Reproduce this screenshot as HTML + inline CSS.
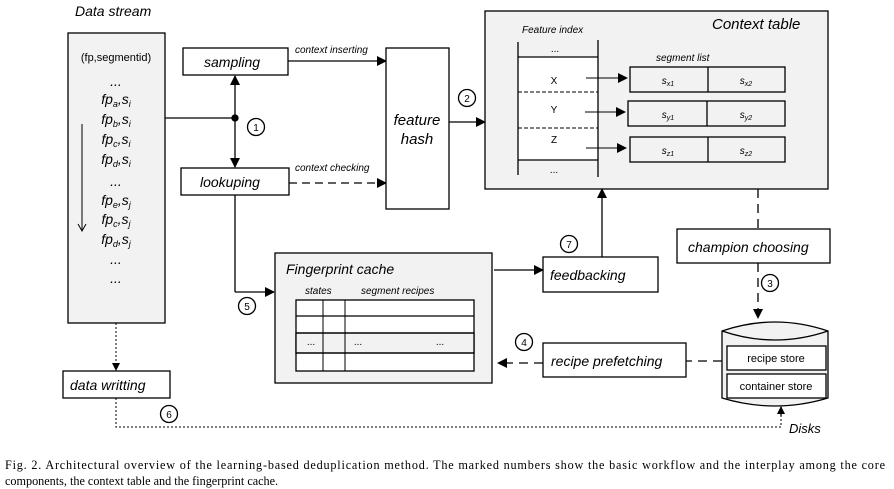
<!DOCTYPE html>
<html><head><meta charset="utf-8"><style>
html,body{margin:0;padding:0;background:#fff;width:894px;height:489px;overflow:hidden}
svg{display:block}
text{font-family:"Liberation Sans",sans-serif;fill:#000}
</style></head><body>
<svg width="894" height="489" viewBox="0 0 894 489" xmlns="http://www.w3.org/2000/svg">
<defs>
<marker id="a" markerWidth="10" markerHeight="10" refX="9" refY="5" orient="auto" markerUnits="userSpaceOnUse"><path d="M0,0 L10,5 L0,10 z" fill="#000"/></marker>
<marker id="s" markerWidth="8" markerHeight="8" refX="7" refY="4" orient="auto" markerUnits="userSpaceOnUse"><path d="M0,0 L8,4 L0,8 z" fill="#000"/></marker>
</defs>
<g stroke="#000" stroke-width="1.3" fill="none">
<rect x="68" y="33" width="97" height="290" fill="#f2f2f2"/>
<line x1="82" y1="124" x2="82" y2="230" stroke-width="1"/>
<path d="M78,224 L82,231 L86,224" stroke-width="1"/>
<rect x="183" y="48" width="105" height="27" fill="#fff"/>
<rect x="181" y="168" width="108" height="27" fill="#fff"/>
<line x1="165" y1="118" x2="235" y2="118"/>
<line x1="235" y1="118" x2="235" y2="76" marker-end="url(#a)"/>
<line x1="235" y1="118" x2="235" y2="167" marker-end="url(#a)"/>
<circle cx="235" cy="118" r="3" fill="#000"/>
<circle cx="256" cy="127" r="8.5"/>
<line x1="288" y1="61" x2="386" y2="61" marker-end="url(#a)"/>
<line x1="289" y1="183" x2="386" y2="183" stroke-dasharray="8,5" marker-end="url(#a)"/>
<rect x="386" y="48" width="63" height="161" fill="#fff"/>
<line x1="449" y1="122" x2="485" y2="122" marker-end="url(#a)"/>
<circle cx="467" cy="98" r="8.5"/>
<rect x="485" y="11" width="343" height="178" fill="#f2f2f2"/>
<rect x="518" y="57" width="80" height="103" fill="#fff" stroke="none"/>
<line x1="518" y1="42" x2="518" y2="175"/>
<line x1="598" y1="40" x2="598" y2="177"/>
<line x1="518" y1="57" x2="598" y2="57"/>
<line x1="518" y1="160" x2="598" y2="160"/>
<line x1="518" y1="92" x2="598" y2="92" stroke-dasharray="4,2" stroke-width="1"/>
<line x1="518" y1="128" x2="598" y2="128" stroke-dasharray="4,2" stroke-width="1"/>
<line x1="586" y1="78" x2="627" y2="78" stroke-width="1" marker-end="url(#a)"/>
<line x1="585" y1="112" x2="625" y2="112" stroke-width="1" marker-end="url(#a)"/>
<line x1="586" y1="148" x2="626" y2="148" stroke-width="1" marker-end="url(#a)"/>
<rect x="630" y="67" width="155" height="25" fill="#f2f2f2"/><line x1="708" y1="67" x2="708" y2="92"/>
<rect x="628" y="101" width="157" height="25" fill="#f2f2f2"/><line x1="707" y1="101" x2="707" y2="126"/>
<rect x="630" y="137" width="155" height="25" fill="#f2f2f2"/><line x1="708" y1="137" x2="708" y2="162"/>
<line x1="602" y1="257" x2="602" y2="189" marker-end="url(#a)"/>
<circle cx="569" cy="244" r="8.5"/>
<rect x="543" y="257" width="115" height="35" fill="#fff"/>
<line x1="494" y1="270" x2="543" y2="270" marker-end="url(#a)"/>
<line x1="758" y1="189" x2="758" y2="229" stroke-dasharray="9,6"/>
<rect x="677" y="229" width="153" height="34" fill="#fff"/>
<line x1="758" y1="263" x2="758" y2="318" stroke-dasharray="9,6" marker-end="url(#a)"/>
<circle cx="770" cy="283" r="8.5"/>
<path d="M722,331 Q775,313 828,331 L828,398 Q775,414 722,398 Z" fill="#f2f2f2"/>
<path d="M722,331 Q775,349 828,331"/>
<rect x="727" y="346" width="99" height="24" fill="#fff"/>
<rect x="727" y="374" width="99" height="24" fill="#fff"/>
<line x1="722" y1="361" x2="686" y2="361" stroke-dasharray="9,6"/>
<rect x="543" y="343" width="143" height="34" fill="#fff"/>
<line x1="543" y1="363" x2="498" y2="363" stroke-dasharray="9,6" marker-end="url(#a)"/>
<circle cx="524" cy="342" r="8.5"/>
<line x1="235" y1="195" x2="235" y2="292"/>
<line x1="235" y1="292" x2="274" y2="292" marker-end="url(#a)"/>
<circle cx="247" cy="306" r="8.5"/>
<rect x="275" y="253" width="217" height="130" fill="#f2f2f2"/>
<rect x="296" y="300" width="178" height="71" fill="#fff"/>
<rect x="296" y="333" width="178" height="20" fill="#f2f2f2"/>
<line x1="296" y1="316" x2="474" y2="316"/>
<line x1="296" y1="333" x2="474" y2="333"/>
<line x1="296" y1="353" x2="474" y2="353"/>
<line x1="323" y1="300" x2="323" y2="371" stroke-width="1"/>
<line x1="345" y1="300" x2="345" y2="371" stroke-width="1"/>
<line x1="116" y1="323" x2="116" y2="370" stroke-dasharray="2,2" stroke-width="1" marker-end="url(#s)"/>
<rect x="63" y="371" width="107" height="27" fill="#fff"/>
<path d="M116,398 L116,427 L781,427 L781,409" stroke-dasharray="2,2" stroke-width="1"/>
<line x1="781" y1="416" x2="781" y2="407" marker-end="url(#s)"/>
<circle cx="169" cy="414" r="8.5"/>
</g>
<g font-size="14" font-style="italic">
<text x="75" y="16">Data stream</text>
<text x="204" y="67">sampling</text>
<text x="200" y="187">lookuping</text>
<text x="417" y="125" text-anchor="middle" font-size="15">feature</text>
<text x="417" y="144" text-anchor="middle" font-size="15">hash</text>
<text x="712" y="29" font-size="15">Context table</text>
<text x="550" y="280">feedbacking</text>
<text x="688" y="252">champion choosing</text>
<text x="551" y="366">recipe prefetching</text>
<text x="286" y="274">Fingerprint cache</text>
<text x="70" y="390">data writting</text>
<text x="789" y="433" font-size="13">Disks</text>
</g>
<g font-size="10" font-style="italic">
<text x="295" y="53">context inserting</text>
<text x="295" y="171">context checking</text>
<text x="522" y="33">Feature index</text>
<text x="656" y="61">segment list</text>
<text x="305" y="294">states</text>
<text x="361" y="294">segment recipes</text>
</g>
<g font-size="10" text-anchor="middle">
<text x="256" y="131">1</text><text x="467" y="102">2</text><text x="770" y="287">3</text>
<text x="524" y="346">4</text><text x="247" y="310">5</text><text x="169" y="418">6</text><text x="569" y="248">7</text>
<text x="555" y="52">...</text><text x="554" y="173">...</text>
<text x="554" y="84">X</text><text x="554" y="113">Y</text><text x="554" y="143">Z</text>
<text x="668" y="84" font-style="italic">s<tspan font-size="7" dy="2">x1</tspan></text>
<text x="746" y="84" font-style="italic">s<tspan font-size="7" dy="2">x2</tspan></text>
<text x="668" y="118" font-style="italic">s<tspan font-size="7" dy="2">y1</tspan></text>
<text x="746" y="118" font-style="italic">s<tspan font-size="7" dy="2">y2</tspan></text>
<text x="668" y="154" font-style="italic">s<tspan font-size="7" dy="2">z1</tspan></text>
<text x="746" y="154" font-style="italic">s<tspan font-size="7" dy="2">z2</tspan></text>
<text x="776" y="362" font-size="11">recipe store</text>
<text x="776" y="390" font-size="11">container store</text>
<text x="311" y="345">...</text><text x="358" y="345">...</text><text x="440" y="345">...</text>
<text x="116" y="61" font-size="11">(fp,segmentid)</text>
</g>
<g font-size="14" font-style="italic" text-anchor="middle">
<text x="116" y="86">...</text>
<text x="116" y="104">fp<tspan font-size="9" dy="3">a</tspan><tspan dy="-3">,s</tspan><tspan font-size="9" dy="3">i</tspan></text>
<text x="116" y="124">fp<tspan font-size="9" dy="3">b</tspan><tspan dy="-3">,s</tspan><tspan font-size="9" dy="3">i</tspan></text>
<text x="116" y="144">fp<tspan font-size="9" dy="3">c</tspan><tspan dy="-3">,s</tspan><tspan font-size="9" dy="3">i</tspan></text>
<text x="116" y="164">fp<tspan font-size="9" dy="3">d</tspan><tspan dy="-3">,s</tspan><tspan font-size="9" dy="3">i</tspan></text>
<text x="116" y="186">...</text>
<text x="116" y="205">fp<tspan font-size="9" dy="3">e</tspan><tspan dy="-3">,s</tspan><tspan font-size="9" dy="3">j</tspan></text>
<text x="116" y="224">fp<tspan font-size="9" dy="3">c</tspan><tspan dy="-3">,s</tspan><tspan font-size="9" dy="3">j</tspan></text>
<text x="116" y="244">fp<tspan font-size="9" dy="3">d</tspan><tspan dy="-3">,s</tspan><tspan font-size="9" dy="3">j</tspan></text>
<text x="116" y="264">...</text>
<text x="116" y="283">...</text>
</g>
<g font-size="12.2">
<text x="5" y="469" textLength="880" lengthAdjust="spacing" style="font-family:'Liberation Serif',serif">Fig. 2.  Architectural overview of the learning-based deduplication method. The marked numbers show the basic workflow and the interplay among the core</text>
<text x="5" y="485" style="font-family:'Liberation Serif',serif">components, the context table and the fingerprint cache.</text>
</g>
</svg>
</body></html>
